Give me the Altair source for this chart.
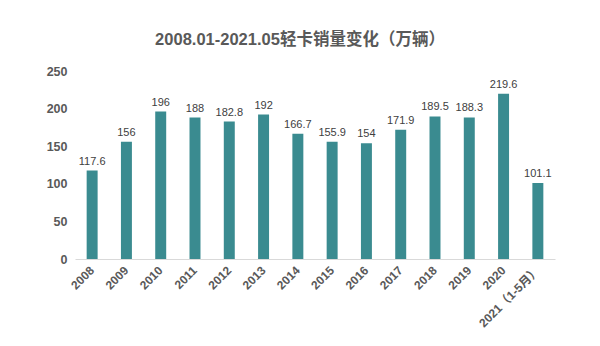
import altair as alt
import pandas as pd

years = ["2008", "2009", "2010", "2011", "2012", "2013", "2014", "2015",
         "2016", "2017", "2018", "2019", "2020", "2021（1-5月）"]
sales = [117.6, 156, 196, 188, 182.8, 192, 166.7, 155.9, 154, 171.9,
         189.5, 188.3, 219.6, 101.1]
labels = ["117.6", "156", "196", "188", "182.8", "192", "166.7", "155.9",
          "154", "171.9", "189.5", "188.3", "219.6", "101.1"]
y_ticks = [0, 50, 100, 150, 200, 250]

df = pd.DataFrame({"year": years, "sales": sales, "label": labels})

FONT = "Liberation Sans, Arial, Noto Sans CJK SC"
TEAL = "#3A8B90"
GRAY = "#595959"

base = alt.Chart(df)

x_enc = alt.X("year:N", sort=years, title=None,
              scale=alt.Scale(paddingInner=0.68, paddingOuter=0.34),
              axis=alt.Axis(labelAngle=-45, labelAlign="right", labelBaseline="middle",
                            labelFont=FONT, labelFontSize=12, labelFontWeight="bold",
                            labelColor=GRAY, ticks=False, domainColor="#D9D9D9",
                            domainWidth=1, labelPadding=9, labelOverlap=False))

y_enc = alt.Y("sales:Q", title=None,
              scale=alt.Scale(domain=[0, 250], nice=False),
              axis=alt.Axis(values=y_ticks, grid=False, ticks=False,
                            domain=False, labelFont=FONT, labelFontSize=12.5,
                            labelFontWeight="bold", labelColor=GRAY, labelPadding=8,
                            labelOverlap=False, labelBound=False, labelFlush=False))

bars = base.mark_bar(color=TEAL).encode(x=x_enc, y=y_enc)

text = base.mark_text(dy=-9, font=FONT, fontSize=11, color="#404040").encode(
    x=x_enc,
    y=y_enc,
    text="label:N",
)

chart = (bars + text).properties(
    width=480, height=188,
    autosize=alt.AutoSizeParams(type="none"),
    padding={"left": 75, "top": 71, "right": 45, "bottom": 87},
    title=alt.TitleParams("2008.01-2021.05轻卡销量变化（万辆）", font=FONT, fontSize=16.5,
                          fontWeight="bold", color=GRAY, dx=-15, offset=17),
).configure_view(stroke=None)

chart.save("out.html", embed_options={"renderer": "svg", "actions": False})
